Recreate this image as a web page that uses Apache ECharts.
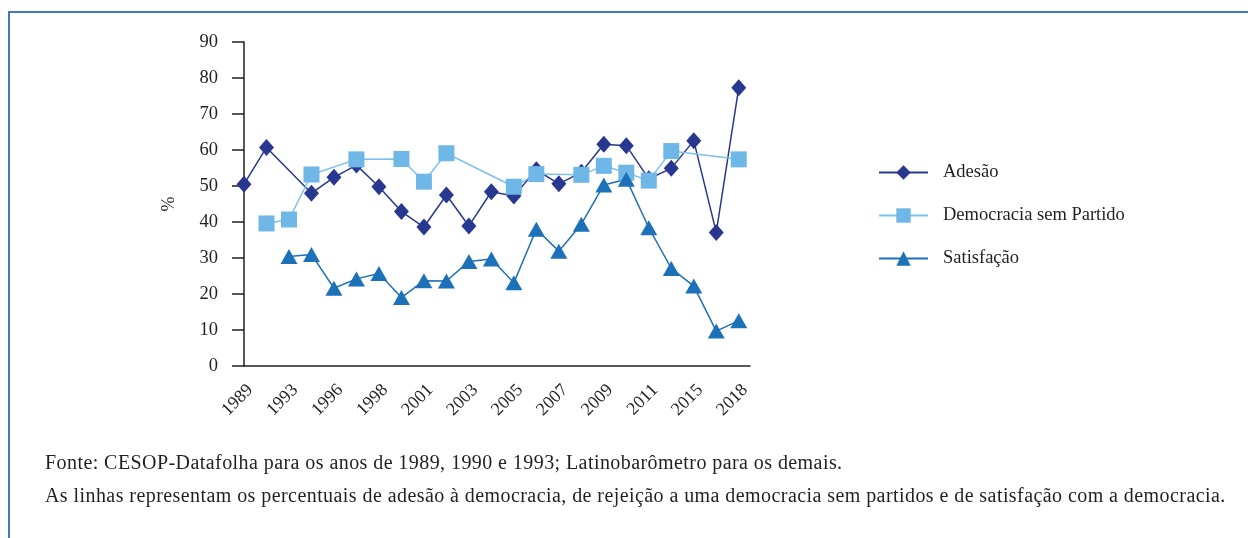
<!DOCTYPE html>
<html>
<head>
<meta charset="utf-8">
<script src="https://cdn.jsdelivr.net/npm/echarts@6/dist/echarts.min.js"></script>
<style>
  html, body { margin: 0; padding: 0; background: #fff; }
  #frame {
    position: absolute; left: 8px; top: 11px; width: 1240px; height: 527px;
    border-top: 2px solid #4475bd; border-left: 2px solid #4475bd;
  }
  #chart { position: absolute; left: 0; top: 0; width: 1248px; height: 538px; }
  .note {
    position: absolute; left: 45px; font-family: 'Liberation Serif', serif;
    font-size: 20px; letter-spacing: 0.43px; color: #231f20; white-space: nowrap;
  }
</style>
</head>
<body>
<div id="frame"></div>
<div id="chart"></div>
<div class="note" style="top: 451px;">Fonte: CESOP-Datafolha para os anos de 1989, 1990 e 1993; Latinobarômetro para os demais.</div>
<div class="note" style="top: 484px;">As linhas representam os percentuais de adesão à democracia, de rejeição a uma democracia sem partidos e de satisfação com a democracia.</div>
<script>
// anos de cada ponto (só os pares aparecem no eixo)
const years = ['1989', '1990', '1993', '1995', '1996', '1997', '1998', '2000', '2001', '2002', '2003', '2004',
  '2005', '2006', '2007', '2008', '2009', '2010', '2011', '2013', '2015', '2017', '2018']

const adesao = [50.5, 60.7, null, 48.0, 52.4, 55.8, 49.8, 42.9, 38.6, 47.5, 38.9, 48.4,
  47.2, 54.5, 50.6, 53.8, 61.6, 61.2, 52.0, 54.9, 62.6, 37.1, 77.3]
const semPartido = [null, 39.6, 40.7, 53.2, null, 57.4, null, 57.5, 51.2, 59.1, null, null,
  49.8, 53.3, null, 53.1, 55.6, 53.7, 51.5, 59.7, null, null, 57.4]
const satisfacao = [null, null, 30.4, 31.0, 21.6, 24.2, 25.7, 19.0, 23.7, 23.6, 29.0, 29.7,
  23.1, 38.0, 31.9, 39.4, 50.3, 51.9, 38.4, 27.1, 22.2, 9.7, 12.6]

const yTicks = [0, 10, 20, 30, 40, 50, 60, 70, 80, 90]

const font = 'Liberation Serif'
const ink = '#231f20'

// pontos sem valor ficam de fora e a linha passa direto
const toPoints = (arr) => arr.map((v, i) => [i, v]).filter((p) => p[1] !== null)

const chart = echarts.init(document.getElementById('chart'))

const option = {
  animation: false,
  textStyle: { fontFamily: font, color: ink },
  grid: { left: 244, top: 42, width: 506, height: 324, containLabel: false },
  legend: {
    orient: 'vertical',
    left: 873,
    top: 158,
    itemWidth: 49,
    itemHeight: 18,
    itemGap: 24,
    textStyle: { fontFamily: font, fontSize: 18.5, color: ink, padding: [0, 0, 0, 10] },
    data: ['Adesão', 'Democracia sem Partido', 'Satisfação']
  },
  xAxis: {
    type: 'value',
    min: 0,
    max: 22.5,
    interval: 1,
    splitLine: { show: false },
    axisTick: { show: false },
    axisLine: { lineStyle: { color: ink, width: 1.5 } },
    axisLabel: {
      rotate: 45,
      margin: 15,
      verticalAlign: 'top',
      fontFamily: font,
      fontSize: 18,
      color: ink,
      showMaxLabel: false,
      formatter: (v) => (Number.isInteger(v) && v % 2 === 0 && years[v]) ? years[v] : ''
    }
  },
  yAxis: {
    type: 'value',
    min: yTicks[0],
    max: yTicks[yTicks.length - 1],
    interval: 10,
    name: '%',
    nameLocation: 'middle',
    nameGap: 66,
    nameRotate: 90,
    nameTextStyle: { fontFamily: font, fontSize: 18, color: ink },
    splitLine: { show: false },
    axisLine: { show: true, lineStyle: { color: ink, width: 1.5 } },
    axisTick: { show: true, inside: false, length: 12, lineStyle: { color: ink, width: 1.5 } },
    axisLabel: { margin: 26, fontFamily: font, fontSize: 18.5, color: ink }
  },
  series: [
    {
      name: 'Adesão',
      type: 'line',
      data: toPoints(adesao),
      symbol: 'diamond',
      symbolSize: [15, 17],
      color: '#283891',
      lineStyle: { color: '#283891', width: 1.5 },
      itemStyle: { color: '#283891' }
    },
    {
      name: 'Democracia sem Partido',
      type: 'line',
      data: toPoints(semPartido),
      symbol: 'rect',
      symbolSize: 16,
      color: '#6fb7e7',
      lineStyle: { color: '#7cc1ec', width: 1.5 },
      itemStyle: { color: '#6fb7e7' }
    },
    {
      name: 'Satisfação',
      type: 'line',
      data: toPoints(satisfacao),
      symbol: 'triangle',
      symbolSize: [17, 15],
      color: '#1c71b8',
      lineStyle: { color: '#1c71b8', width: 1.5 },
      itemStyle: { color: '#1c71b8' }
    }
  ]
}

chart.setOption(option)
</script>
</body>
</html>
